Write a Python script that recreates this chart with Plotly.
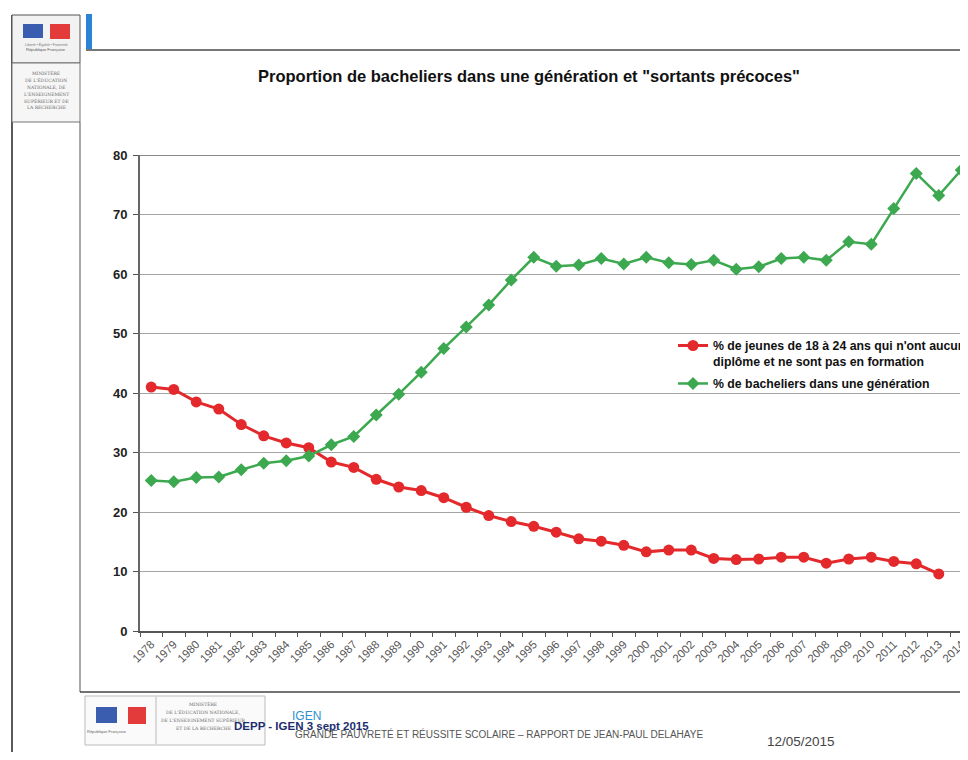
import plotly.graph_objects as go

years = [str(y) for y in range(1978, 2015)]

sortants = [41.0, 40.6, 38.5, 37.3, 34.7, 32.8, 31.6, 30.8, 28.4, 27.5,
            25.5, 24.2, 23.6, 22.4, 20.8, 19.4, 18.4, 17.6, 16.6, 15.5,
            15.1, 14.4, 13.3, 13.6, 13.6, 12.2, 12.0, 12.1, 12.4, 12.4,
            11.4, 12.1, 12.4, 11.7, 11.3, 9.6, None]

bacheliers = [25.3, 25.1, 25.8, 25.9, 27.1, 28.2, 28.6, 29.4, 31.3, 32.7,
              36.3, 39.8, 43.5, 47.5, 51.1, 54.8, 59.0, 62.8, 61.3, 61.5,
              62.6, 61.7, 62.8, 61.9, 61.6, 62.3, 60.8, 61.2, 62.6, 62.8,
              62.3, 65.4, 65.0, 71.0, 76.9, 73.2, 77.5]

y_ticks = [0, 10, 20, 30, 40, 50, 60, 70, 80]

name_sortants = "% de jeunes de 18 à 24 ans qui n'ont aucun<br>diplôme et ne sont pas en formation"
name_bac = "% de bacheliers dans une génération"
title_text = 'Proportion de bacheliers dans une génération et "sortants précoces"'

# page offset (browser body margin)
OFF = 8
W, H = 968 - OFF, 760 - 2 * OFF
L = 140 - OFF
T = 155 - OFF
PLOT_BOTTOM = 631 - OFF
B = H - PLOT_BOTTOM
R = 0
PW, PH = W - L - R, H - T - B


def px(x):
    return (x - OFF - L) / PW


def py(y):
    return (PLOT_BOTTOM - (y - OFF)) / PH


FONT = "Liberation Sans, Arial, sans-serif"
RED = "#e3292b"
GREEN = "#3ca84f"

fig = go.Figure()
fig.add_trace(go.Scatter(
    x=years, y=sortants, name=name_sortants, mode="lines+markers",
    legendgroup="a",
    line=dict(color=RED, width=3),
    marker=dict(symbol="circle", size=11, color=RED),
    connectgaps=False,
))
fig.add_trace(go.Scatter(
    x=years, y=bacheliers, name=name_bac, mode="lines+markers",
    legendgroup="b",
    line=dict(color=GREEN, width=2.5),
    marker=dict(symbol="diamond", size=10, color=GREEN),
))

shapes = []
shapes.append(dict(type="line", xref="paper", yref="y", x0=0, x1=1, y0=80, y1=80,
                   line=dict(color="#8a8a8a", width=2)))
shapes.append(dict(type="line", xref="paper", yref="paper", x0=px(12), x1=px(12),
                   y0=py(15), y1=py(760), line=dict(color="#222", width=1.5)))
shapes.append(dict(type="rect", xref="paper", yref="paper", x0=px(12), x1=px(80),
                   y0=py(15), y1=py(63), fillcolor="#f2f2f2",
                   line=dict(color="#555", width=1)))
shapes.append(dict(type="rect", xref="paper", yref="paper", x0=px(12), x1=px(80),
                   y0=py(63), y1=py(122), fillcolor="#f6f6f6",
                   line=dict(color="#777", width=1)))
shapes.append(dict(type="rect", xref="paper", yref="paper", x0=px(23), x1=px(43),
                   y0=py(24), y1=py(38), fillcolor="#3b5db0", line=dict(width=0)))
shapes.append(dict(type="rect", xref="paper", yref="paper", x0=px(50), x1=px(70),
                   y0=py(24), y1=py(39), fillcolor="#e33b3b", line=dict(width=0)))
shapes.append(dict(type="line", xref="paper", yref="paper", x0=px(80), x1=px(80),
                   y0=py(122), y1=py(692), line=dict(color="#555", width=1)))
shapes.append(dict(type="line", xref="paper", yref="paper", x0=px(80), x1=px(968),
                   y0=py(692), y1=py(692), line=dict(color="#444", width=1.5)))
shapes.append(dict(type="rect", xref="paper", yref="paper", x0=px(86), x1=px(92),
                   y0=py(14), y1=py(50), fillcolor="#2b84d6", line=dict(width=0)))
shapes.append(dict(type="line", xref="paper", yref="paper", x0=px(86), x1=px(968),
                   y0=py(50), y1=py(50), line=dict(color="#777", width=2)))
shapes.append(dict(type="rect", xref="paper", yref="paper", x0=px(85), x1=px(265),
                   y0=py(696), y1=py(745), fillcolor="#fafafa",
                   line=dict(color="#bbb", width=1)))
shapes.append(dict(type="line", xref="paper", yref="paper", x0=px(156), x1=px(156),
                   y0=py(697), y1=py(744), line=dict(color="#bbb", width=1)))
shapes.append(dict(type="rect", xref="paper", yref="paper", x0=px(96), x1=px(117),
                   y0=py(707), y1=py(723), fillcolor="#3b5db0", line=dict(width=0)))
shapes.append(dict(type="rect", xref="paper", yref="paper", x0=px(128), x1=px(146),
                   y0=py(707), y1=py(724), fillcolor="#e33b3b", line=dict(width=0)))

annotations = []


def txt(x, y, s, size, color="#222", bold=False, xanchor="left", fam=FONT):
    annotations.append(dict(
        x=px(x), y=py(y), xref="paper", yref="paper", text=s, showarrow=False,
        xanchor=xanchor, yanchor="middle",
        font=dict(family=fam, size=size, color=color, weight="bold" if bold else "normal"),
    ))


txt(529, 76, title_text, 16.5, color="#111", bold=True, xanchor="center")
txt(46, 45, "Liberté • Égalité • Fraternité", 3.5, color="#777", xanchor="center")
txt(46, 50, "République Française", 4, color="#555", xanchor="center")
for i, s in enumerate(["MINISTÈRE", "DE L'ÉDUCATION", "NATIONALE, DE", "L'ENSEIGNEMENT",
                       "SUPÉRIEUR ET DE", "LA RECHERCHE"]):
    txt(46, 73 + i * 7, s, 4.5, color="#666", xanchor="center", fam="DejaVu Serif, serif")
txt(107, 731, "République Française", 4, color="#666", xanchor="center")
for i, s in enumerate(["MINISTÈRE", "DE L'ÉDUCATION NATIONALE,", "DE L'ENSEIGNEMENT SUPÉRIEUR",
                       "ET DE LA RECHERCHE"]):
    txt(203, 704 + i * 8, s, 4.5, color="#666", xanchor="center", fam="DejaVu Serif, serif")
txt(290, 716, "IGEN", 12, color="#2f8fd0")
txt(293, 734, "GRANDE PAUVRETÉ ET RÉUSSITE SCOLAIRE – RAPPORT DE JEAN-PAUL DELAHAYE", 10,
    color="#555")
txt(232, 726, "DEPP - IGEN 3 sept 2015", 11.5, color="#1d2d6e", bold=True)
txt(765, 741, "12/05/2015", 13.5, color="#444")

fig.update_layout(
    width=W, height=H,
    margin=dict(l=L, r=R, t=T, b=B, pad=0, autoexpand=False),
    paper_bgcolor="white", plot_bgcolor="white",
    font=dict(family=FONT, color="#222"),
    showlegend=True,
    legend=dict(
        x=px(673), y=py(331), xanchor="left", yanchor="top",
        bgcolor="rgba(0,0,0,0)", traceorder="grouped", valign="top",
        font=dict(family=FONT, size=12.3, color="#111", weight="bold"),
        tracegroupgap=3, itemwidth=30,
    ),
    xaxis=dict(
        type="category", range=[-0.5, 36.3],
        tickangle=-45, tickfont=dict(family=FONT, size=11.5, color="#555"),
        ticks="outside", ticklen=4, tickcolor="#555", tickson="boundaries",
        showline=True, linecolor="#555", linewidth=2, showgrid=False,
        zeroline=False, fixedrange=True,
    ),
    yaxis=dict(
        range=[0, 80], tickvals=y_ticks,
        tickfont=dict(family=FONT, size=13, color="#222", weight="bold"),
        ticks="outside", ticklen=5, tickcolor="#555", ticklabelstandoff=3,
        showline=True, linecolor="#666", linewidth=2,
        showgrid=True, gridcolor="#a5a5a5", gridwidth=1,
        zeroline=False, fixedrange=True,
    ),
    shapes=shapes, annotations=annotations,
)

fig.write_html("out.html")
